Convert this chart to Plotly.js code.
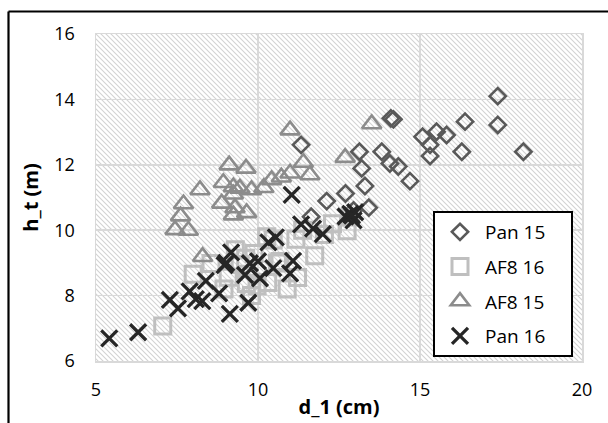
<!DOCTYPE html>
<html>
<head>
<meta charset="utf-8">
<script src="https://cdn.plot.ly/plotly-3.0.1.min.js"></script>
<style>html,body{margin:0;padding:0;background:#fff;}#chart{width:608px;height:423px;}</style>
</head>
<body>
<div id="chart"></div>
<script>
// Pan 15 (diamonds)
const pan15_d = [17.40,16.39,17.40,14.10,14.18,15.08,15.51,15.82,15.31,15.31,16.29,18.19,13.82,14.07,14.33,14.69,13.13,13.20,13.30,12.70,12.12,13.42,11.33,11.64,12.95];
const pan15_h = [14.10,13.32,13.22,13.42,13.39,12.86,13.01,12.91,12.61,12.27,12.40,12.40,12.40,12.04,11.95,11.50,12.40,11.89,11.35,11.12,10.89,10.69,12.61,10.41,10.60];
// AF8 16 (squares)
const af816_d = [7.06,8.00,9.08,9.30,8.55,9.45,9.62,9.88,9.64,9.80,9.97,10.30,10.27,10.47,10.60,10.68,10.90,11.22,11.17,11.38,11.75,12.05,12.30,12.75,12.85,8.95];
const af816_h = [7.07,8.65,8.56,9.40,8.98,8.95,9.14,9.29,8.37,8.00,8.30,8.40,9.80,9.70,9.00,9.04,8.20,8.55,9.72,10.00,9.22,9.87,10.20,9.98,10.40,8.20];
// AF8 15 (triangles)
const af815_d = [10.99,13.51,12.69,9.11,9.63,11.40,8.21,8.93,9.24,9.80,10.18,10.42,10.72,10.99,11.60,8.88,9.29,9.24,9.65,9.44,9.24,7.70,7.61,7.44,7.85,8.29];
const af815_h = [13.06,13.25,12.22,11.99,11.89,12.07,11.23,11.45,11.32,11.23,11.30,11.54,11.62,11.74,11.69,10.82,10.68,10.46,10.53,11.28,11.10,10.80,10.43,10.01,9.99,9.19];
// Pan 16 (crosses)
const pan16_d = [5.41,6.30,7.28,7.53,7.89,8.08,8.28,8.39,8.80,8.97,9.02,9.17,9.13,9.70,9.60,9.75,10.06,10.00,10.32,10.55,10.47,10.99,11.08,11.04,11.33,11.70,12.00,12.70,12.85,12.95,13.00,12.90];
const pan16_h = [6.69,6.88,7.87,7.61,8.13,7.89,7.83,8.45,8.07,8.93,9.00,9.32,7.44,7.78,8.63,8.99,8.53,9.05,9.63,9.78,8.84,8.68,9.06,11.08,10.18,10.05,9.88,10.42,10.50,10.30,10.55,10.45];

const seriesNames = ["Pan 15", "AF8 16", "AF8 15", "Pan 16"];
const xTicks = [5, 10, 15, 20];
const yTicks = [6, 8, 10, 12, 14, 16];

const FONT = "'Open Sans', 'Noto Sans', sans-serif";
const pad = "\u00a0\u00a0\u00a0\u00a0";

function tr(name, xs, ys, symbol, color, size, lw, grp) {
  return {
    type: "scatter", mode: "markers", name: name + pad, x: xs, y: ys,
    legendgroup: grp,
    marker: {symbol: symbol, color: color, size: size, line: {color: color, width: lw}},
    hoverinfo: "none"
  };
}

const traces = [
  tr(seriesNames[0], pan15_d, pan15_h, "diamond-open", "#595959", 12.5, 2.6, "a"),
  tr(seriesNames[1], af816_d, af816_h, "square-open", "#bfbfbf", 16, 3, "b"),
  tr(seriesNames[2], af815_d, af815_h, "triangle-up-open", "#8c8c8c", 17, 2.6, "c"),
  tr(seriesNames[3], pan16_d, pan16_h, "x-thin-open", "#262626", 16, 3.3, "d")
];

const hatch = "data:image/svg+xml;charset=utf-8," + encodeURIComponent(
  "<svg xmlns='http://www.w3.org/2000/svg' width='486' height='327'>" +
  "<defs><pattern id='p' width='5' height='5' patternUnits='userSpaceOnUse'>" +
  "<path d='M-1,-1 L6,6 M-1,4 L1,6 M4,-1 L6,1' stroke='#d2d2d2' stroke-width='1.1'/></pattern></defs>" +
  "<rect width='486' height='327' fill='#ffffff'/><rect width='486' height='327' fill='url(#p)'/></svg>");

const layout = {
  width: 608, height: 423,
  margin: {l: 96, r: 26, t: 34, b: 62, pad: 0},
  paper_bgcolor: "#ffffff",
  plot_bgcolor: "rgba(0,0,0,0)",
  font: {family: FONT, size: 18, color: "#000"},
  showlegend: true,
  legend: {
    x: (433 - 96) / 486, y: (361 - 211) / 327, xanchor: "left", yanchor: "top",
    bgcolor: "#ffffff", bordercolor: "#000", borderwidth: 2,
    font: {family: FONT, size: 19, color: "#000"},
    tracegroupgap: 7, itemwidth: 40, traceorder: "grouped"
  },
  xaxis: {
    range: [5, 20], tickvals: xTicks, ticktext: xTicks.map(String),
    showgrid: true, gridcolor: "#d9d9d9", gridwidth: 1.5,
    zeroline: false, showline: true, linecolor: "#d9d9d9", linewidth: 1.5, mirror: true,
    ticks: "", ticklabelstandoff: 12,
    tickfont: {family: FONT, size: 18, color: "#000"},
    title: {text: "<b>d_1 (cm)</b>", font: {family: FONT, size: 20, color: "#000"}, standoff: 0}
  },
  yaxis: {
    range: [6, 16], tickvals: yTicks, ticktext: yTicks.map(String),
    showgrid: true, gridcolor: "#d9d9d9", gridwidth: 1.5,
    zeroline: false, showline: true, linecolor: "#d9d9d9", linewidth: 1.5, mirror: true,
    ticks: "", ticklabelstandoff: 16,
    tickfont: {family: FONT, size: 18, color: "#000"},
    title: {text: "<b>h_t (m)</b>", font: {family: FONT, size: 20, color: "#000"}, standoff: 10}
  },
  images: [{source: hatch, xref: "paper", yref: "paper", x: 0, y: 1, sizex: 1, sizey: 1,
            sizing: "stretch", layer: "below", xanchor: "left", yanchor: "top"}],
  shapes: [
    {type: "line", xref: "paper", yref: "paper", x0: (8.5 - 96) / 486, x1: (620 - 96) / 486,
     y0: (361 - 11.5) / 327, y1: (361 - 11.5) / 327, line: {color: "#000", width: 2.2}},
    {type: "line", xref: "paper", yref: "paper", x0: (8.5 - 96) / 486, x1: (8.5 - 96) / 486,
     y0: (361 - 11.5) / 327, y1: (361 - 440) / 327, line: {color: "#000", width: 2.2}}
  ]
};

Plotly.newPlot("chart", traces, layout, {staticPlot: true, displayModeBar: false});
</script>
</body>
</html>
